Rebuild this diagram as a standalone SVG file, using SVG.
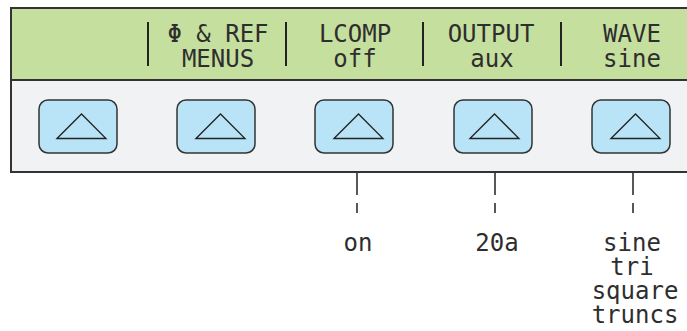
<svg xmlns="http://www.w3.org/2000/svg" width="687" height="331" viewBox="0 0 687 331">
<defs>
<style>
.lcd{font-family:"DejaVu Sans Mono","Liberation Mono",monospace;font-size:24px;fill:#2e2e2e;text-anchor:middle}
.btn{fill:#b9e4f7;stroke:#333;stroke-width:1.5}
.tri{fill:none;stroke:#222;stroke-width:1.3}
.sep{stroke:#222;stroke-width:2}
.conn{stroke:#222;stroke-width:1.5;fill:none}
</style>
</defs>
<g id="panel">
<rect x="11" y="8" width="690" height="164" fill="#f1f2f4" stroke="#333" stroke-width="2"/>
<rect x="11" y="8" width="690" height="72" fill="#c5df9e" stroke="#333" stroke-width="2"/>
<line class="sep" x1="148" y1="22" x2="148" y2="66"/>
<line class="sep" x1="286" y1="22" x2="286" y2="66"/>
<line class="sep" x1="423" y1="22" x2="423" y2="66"/>
<line class="sep" x1="561" y1="22" x2="561" y2="66"/>
<text class="lcd" x="218" y="42">Φ &amp; REF</text>
<text class="lcd" x="218" y="67">MENUS</text>
<text class="lcd" x="355" y="42">LCOMP</text>
<text class="lcd" x="355" y="67">off</text>
<text class="lcd" x="491" y="42">OUTPUT</text>
<text class="lcd" x="492" y="67">aux</text>
<text class="lcd" x="632" y="42">WAVE</text>
<text class="lcd" x="632" y="67">sine</text>
</g>
<g id="btn1"><rect class="btn" x="39" y="100" width="78" height="53" rx="9"/><polygon class="tri" points="57,138.5 81.5,114 106,138.5"/></g>
<g id="btn2"><rect class="btn" x="177" y="100" width="78" height="53" rx="9"/><polygon class="tri" points="196,138.5 220.5,114 245,138.5"/></g>
<g id="btn3"><rect class="btn" x="315" y="100" width="78" height="53" rx="9"/><polygon class="tri" points="334,138.5 358.5,114 383,138.5"/></g>
<g id="btn4"><rect class="btn" x="454" y="100" width="78" height="53" rx="9"/><polygon class="tri" points="470,138.5 494.5,114 519,138.5"/></g>
<g id="btn5"><rect class="btn" x="592" y="100" width="78" height="53" rx="9"/><polygon class="tri" points="611,138.5 635.5,114 660,138.5"/></g>
<g id="connectors">
<path class="conn" d="M357,173 V195 M357,203 V213"/>
<path class="conn" d="M495,173 V195 M495,203 V213"/>
<path class="conn" d="M633,173 V195 M633,203 V213"/>
</g>
<g id="options">
<text class="lcd" x="358" y="251">on</text>
<text class="lcd" x="497" y="251">20a</text>
<text class="lcd" x="632" y="251">sine</text>
<text class="lcd" x="632" y="275">tri</text>
<text class="lcd" x="635" y="299">square</text>
<text class="lcd" x="635" y="323">truncs</text>
</g>
</svg>
